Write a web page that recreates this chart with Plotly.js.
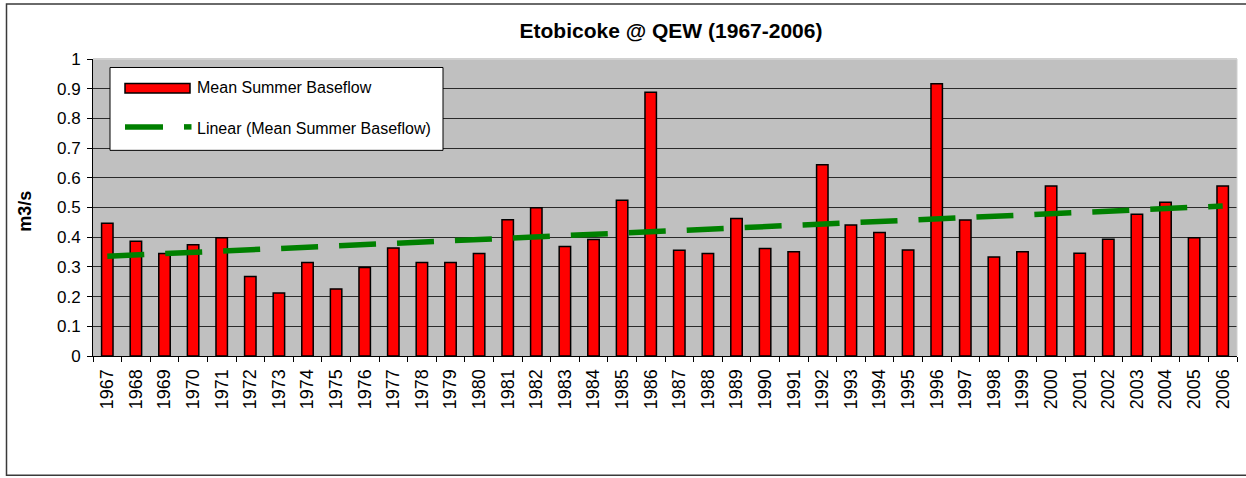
<!DOCTYPE html>
<html>
<head>
<meta charset="utf-8">
<script src="https://cdn.plot.ly/plotly-3.0.1.min.js"></script>
<style>html,body{margin:0;padding:0;background:#fff;}#chart{width:1246px;height:478px;}</style>
</head>
<body>
<div id="chart"></div>
<script>
const years = ['1967','1968','1969','1970','1971','1972','1973','1974','1975','1976',
  '1977','1978','1979','1980','1981','1982','1983','1984','1985','1986',
  '1987','1988','1989','1990','1991','1992','1993','1994','1995','1996',
  '1997','1998','1999','2000','2001','2002','2003','2004','2005','2006'];
const baseflow = [0.447,0.386,0.345,0.375,0.398,0.268,0.212,0.315,0.226,0.298,
  0.364,0.315,0.315,0.345,0.459,0.499,0.369,0.392,0.524,0.888,
  0.356,0.345,0.463,0.362,0.351,0.644,0.441,0.416,0.357,0.917,
  0.458,0.333,0.351,0.572,0.346,0.393,0.477,0.518,0.398,0.572];
const trendYears = ['1967','2006'];
const trendValues = [0.336, 0.505];
const seriesName = 'Mean Summer Baseflow';
const trendName = 'Linear (Mean Summer Baseflow)';
const titleText = 'Etobicoke @ QEW (1967-2006)';
const yTitle = 'm3/s';

const W = 1246, H = 478;
const L = 93, R = 1237, T = 59, B = 356.5;
const px = x => (x - L) / (R - L);
const py = y => (B - y) / (B - T);
const FONT = '"Liberation Sans", Arial, sans-serif';

const traces = [
  {type:'bar', x: years, y: baseflow, name: seriesName,
   marker:{color:'#FF0000', line:{color:'#000000', width:1.5}}, hoverinfo:'x+y'},
  {type:'scatter', mode:'lines', x: trendYears, y: trendValues, name: trendName,
   line:{color:'#008000', width:5.5, dash:'37px,21px'}}
];

const shapes = [
  {type:'line', xref:'paper', yref:'paper', x0:0, x1:1, y0:1, y1:1, line:{color:'#d0d0d0', width:2}, layer:'above'},
  {type:'line', xref:'paper', yref:'paper', x0:1, x1:1, y0:0, y1:1, line:{color:'#d0d0d0', width:1}, layer:'above'},
  {type:'rect', xref:'paper', yref:'paper', x0:px(6.5), x1:px(1252), y0:py(476), y1:py(4),
   line:{color:'#3a3a3a', width:1.5}, fillcolor:'rgba(0,0,0,0)', layer:'above'},
  {type:'rect', xref:'paper', yref:'paper', x0:px(110), x1:px(443), y0:py(150.5), y1:py(67.5),
   line:{color:'#000000', width:1}, fillcolor:'#ffffff', layer:'above'},
  {type:'rect', xref:'paper', yref:'paper', x0:px(125), x1:px(190), y0:py(93), y1:py(83.5),
   line:{color:'#000000', width:1.5}, fillcolor:'#FF0000', layer:'above'},
  {type:'line', xref:'paper', yref:'paper', x0:px(125), x1:px(163), y0:py(127), y1:py(127),
   line:{color:'#008000', width:5.5}, layer:'above'},
  {type:'line', xref:'paper', yref:'paper', x0:px(184), x1:px(191.5), y0:py(127), y1:py(127),
   line:{color:'#008000', width:5.5}, layer:'above'}
];

const annotations = [
  {xref:'paper', yref:'paper', x:px(195), y:py(88), xanchor:'left', yanchor:'middle', showarrow:false,
   text: seriesName, font:{family:FONT, size:16, color:'#000'}},
  {xref:'paper', yref:'paper', x:px(195), y:py(128.5), xanchor:'left', yanchor:'middle', showarrow:false,
   text: trendName, font:{family:FONT, size:16, color:'#000'}},
  {xref:'paper', yref:'paper', x:px(25), y:py(212), xanchor:'center', yanchor:'middle', showarrow:false,
   textangle:-90, text: yTitle, font:{family:FONT, size:18, color:'#000', weight:'bold'}}
];

const layout = {
  width: W, height: H,
  margin:{l:L, r:W-R, t:T, b:H-B, pad:0},
  paper_bgcolor:'#ffffff', plot_bgcolor:'#C0C0C0',
  showlegend:false,
  bargap:0.6,
  font:{family:FONT, color:'#000'},
  title:{text:titleText, font:{family:FONT, size:21, color:'#000', weight:'bold'},
         x:671/W, xanchor:'center', y:1-31/H, yanchor:'middle', xref:'container', yref:'container'},
  xaxis:{type:'category', range:[-0.5, 39.5], showline:true, linecolor:'#000', linewidth:1,
         ticks:'outside', tickson:'boundaries', ticklen:5, tickcolor:'#000', tickwidth:1,
         tickangle:-90, tickfont:{family:FONT, size:18, color:'#000'}, showgrid:false,
         ticklabelstandoff:5, fixedrange:true},
  yaxis:{range:[0,1], dtick:0.1, tick0:0, showline:true, linecolor:'#000', linewidth:1,
         ticks:'outside', ticklen:5, tickcolor:'#000', tickwidth:1,
         showgrid:true, gridcolor:'#2a2a2a', gridwidth:1, zeroline:false,
         tickfont:{family:FONT, size:17, color:'#000'}, ticklabelstandoff:3, fixedrange:true},
  shapes: shapes,
  annotations: annotations
};

Plotly.newPlot('chart', traces, layout, {staticPlot:true, displayModeBar:false});
</script>
</body>
</html>
